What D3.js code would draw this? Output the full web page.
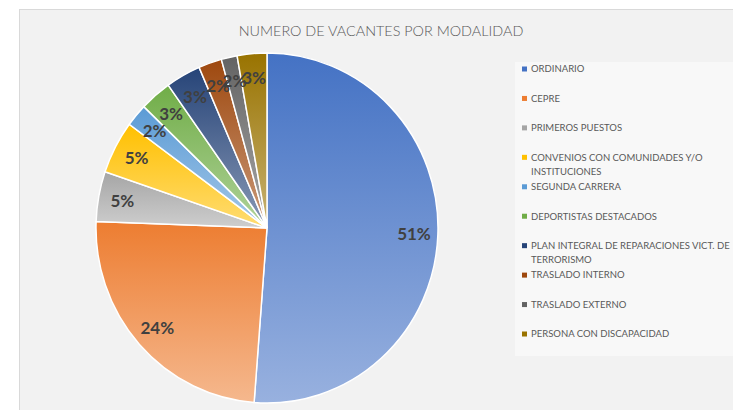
<!DOCTYPE html>
<html>
<head>
<meta charset="utf-8">
<script src="https://cdn.jsdelivr.net/npm/d3@7"></script>
<style>
  html, body { margin: 0; padding: 0; background: #fff; }
  svg { display: block; }
</style>
</head>
<body>
<svg id="chart" width="733" height="410"></svg>
<script>
// values (share of vacantes, %)
const categories = [
    "ORDINARIO",
    "CEPRE",
    "PRIMEROS PUESTOS",
    "CONVENIOS CON COMUNIDADES Y/O INSTITUCIONES",
    "SEGUNDA CARRERA",
    "DEPORTISTAS DESTACADOS",
    "PLAN INTEGRAL DE REPARACIONES VICT. DE TERRORISMO",
    "TRASLADO INTERNO",
    "TRASLADO EXTERNO",
    "PERSONA CON DISCAPACIDAD"
];
const values = [51.2, 24.4, 4.6, 4.9, 2.1, 3.0, 3.3, 2.2, 1.5, 2.8];
// legend wrapping as in the original
const legendLines = [
    ["ORDINARIO"],
    ["CEPRE"],
    ["PRIMEROS PUESTOS"],
    ["CONVENIOS CON COMUNIDADES Y/O", "INSTITUCIONES"],
    ["SEGUNDA CARRERA"],
    ["DEPORTISTAS DESTACADOS"],
    ["PLAN INTEGRAL DE REPARACIONES VICT. DE", "TERRORISMO"],
    ["TRASLADO INTERNO"],
    ["TRASLADO EXTERNO"],
    ["PERSONA CON DISCAPACIDAD"]
];
const colors = ["#4472c4", "#ed7d31", "#a5a5a5", "#ffc000", "#5b9bd5",
                "#70ad47", "#264478", "#9e480e", "#636363", "#997300"];

const svg = d3.select("#chart"),
    width = +svg.attr("width"),
    height = +svg.attr("height");

// chart area
svg.append("rect")
    .attr("x", 19.5).attr("y", 9.5)
    .attr("width", width).attr("height", height)
    .attr("fill", "#f2f2f2")
    .attr("stroke", "#d9d9d9");

// title
const title = svg.append("text")
    .attr("x", 381).attr("y", 36)
    .attr("text-anchor", "middle")
    .style("font-family", "Lato, 'Open Sans', sans-serif")
    .style("font-weight", 300)
    .style("font-size", "16px")
    .attr("fill", "#595959")
    .text("NUMERO DE VACANTES POR MODALIDAD");
// squeeze to the narrow width of the original title
const tw = title.node().getComputedTextLength();
title.style("font-size", (16 * 285 / tw) + "px");

// gradients, darker at top, lighter at bottom of each slice
const defs = svg.append("defs");
colors.forEach((c, i) => {
    const gr = defs.append("linearGradient")
        .attr("id", "grad" + i)
        .attr("x1", 0).attr("y1", 0).attr("x2", 0).attr("y2", 1);
    gr.append("stop").attr("offset", "0%").attr("stop-color", c);
    gr.append("stop").attr("offset", "100%")
        .attr("stop-color", d3.interpolateRgb(c, "#ffffff")(0.45));
});

const cx = 267, cy = 228, r = 175, sx = 171 / 175;
const total = d3.sum(values);

const pie = d3.pie().sort(null).value(d => d);
const arcs = pie(values);
const arc = d3.arc().innerRadius(0).outerRadius(r);
const labelArc = d3.arc().innerRadius(r * 0.86).outerRadius(r * 0.86);

const g = svg.append("g")
    .attr("transform", `translate(${cx},${cy}) scale(${sx},1)`);

g.selectAll("path.slice")
    .data(arcs)
    .enter().append("path")
    .attr("class", "slice")
    .attr("d", arc)
    .attr("fill", (d, i) => `url(#grad${i})`)
    .attr("stroke", "#ffffff")
    .attr("stroke-width", 1.5);

const lg = svg.append("g").attr("transform", `translate(${cx},${cy})`);
lg.selectAll("text")
    .data(arcs)
    .enter().append("text")
    .attr("transform", d => {
        const [x, y] = labelArc.centroid(d);
        return `translate(${x * sx},${y})`;
    })
    .attr("text-anchor", "middle")
    .attr("dy", "0.35em")
    .style("font-family", "Lato, 'Open Sans', sans-serif")
    .style("font-weight", "bold")
    .style("font-size", "17px")
    .attr("fill", "#404040")
    .text(d => Math.round(d.value / total * 100) + "%");

// legend
svg.append("rect")
    .attr("x", 515).attr("y", 62)
    .attr("width", 230).attr("height", 294)
    .attr("fill", "#f8f8f8");

const ly = d3.scaleLinear().domain([0, categories.length - 1]).range([69, 334]);

const item = svg.append("g").selectAll("g")
    .data(categories)
    .enter().append("g")
    .attr("transform", (d, i) => `translate(522,${ly(i)})`);

item.append("rect")
    .attr("x", 0).attr("y", -2.5)
    .attr("width", 5).attr("height", 5)
    .attr("fill", (d, i) => colors[i]);

item.append("text")
    .style("font-family", "Lato, 'Open Sans', sans-serif")
    .style("font-size", "9.5px")
    .attr("fill", "#595959")
    .selectAll("tspan")
    .data((d, i) => legendLines[i])
    .enter().append("tspan")
    .attr("x", 9)
    .attr("y", (d, j) => j * 14)
    .attr("dy", "0.35em")
    .text(d => d);
</script>
</body>
</html>
